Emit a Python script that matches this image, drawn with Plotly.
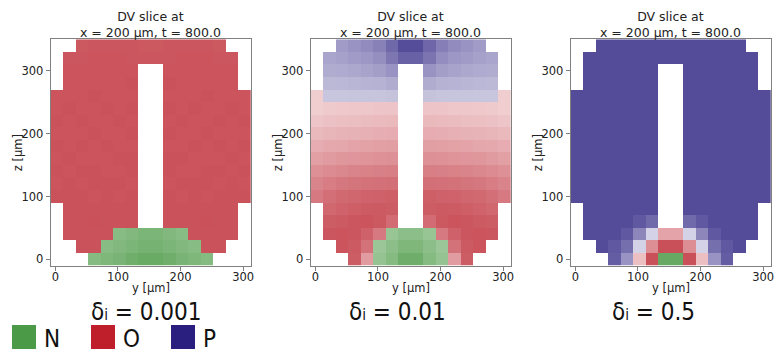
import plotly.graph_objects as go

W, H = 776, 352

# Grid cell centres of the DV slice (µm)
Y_CENTERS = [2.5, 22.5, 42.5, 62.5, 82.5, 102.5, 122.5, 142.5,
             162.5, 182.5, 202.5, 222.5, 242.5, 262.5, 282.5, 302.5]
Z_CENTERS = [340, 320, 300, 280, 260, 240, 220, 200, 180,
             160, 140, 120, 100, 80, 60, 40, 20, 0]   # row order of the tables below

TICKS = [0, 100, 200, 300]
DELTAS = ["0.001", "0.01", "0.5"]
FATES = ["N", "O", "P"]

# Colour of a fully committed cell and of the legend swatches
FATE_COLORS = {"N": "#67a962", "O": "#c94f58", "P": "#544b99"}
LEGEND_COLORS = {"N": "#4b9a47", "O": "#be1f2a", "P": "#2a1f7e"}

# Each token = fate letter + expression level (%), "." = no cell.
FATE_D0001 = [
    ". . O95 O96 O96 O96 O96 O95 O95 O96 O96 O96 O96 O95 . .",
    ". O96 O96 O97 O97 O97 O96 O96 O96 O96 O97 O97 O97 O96 O96 .",
    ". O97 O97 O97 O97 O97 O97 . . O97 O97 O97 O97 O97 O97 .",
    ". O97 O97 O97 O97 O97 O98 . . O98 O97 O97 O97 O97 O97 .",
    "O97 O97 O97 O98 O97 O97 O97 . . O97 O97 O97 O98 O97 O97 O97",
    "O97 O98 O97 O97 O98 O97 O98 . . O98 O97 O98 O97 O97 O98 O97",
    "O98 O97 O98 O97 O97 O98 O97 . . O97 O98 O97 O97 O98 O97 O98",
    "O97 O97 O97 O98 O97 O97 O98 . . O98 O97 O97 O98 O97 O97 O97",
    "O98 O97 O98 O97 O98 O97 O97 . . O97 O97 O98 O97 O98 O97 O98",
    "O97 O98 O97 O97 O97 O98 O98 . . O98 O98 O97 O97 O97 O98 O97",
    "O98 O97 O98 O98 O97 O97 O98 . . O98 O97 O97 O98 O98 O97 O98",
    "O97 O98 O97 O98 O98 O98 O97 . . O97 O98 O98 O98 O97 O98 O97",
    "O98 O98 O98 O97 O98 O97 O98 . . O98 O97 O98 O97 O98 O98 O98",
    ". O98 O98 O98 O98 O98 O98 . . O98 O98 O98 O98 O98 O98 .",
    ". O98 O98 O99 O98 O98 O98 . . O98 O98 O98 O99 O98 O98 .",
    ". O98 O98 O98 O98 N78 N82 N86 N86 N82 N78 O98 O98 O98 O98 .",
    ". . O98 O98 N78 N82 N86 N90 N90 N86 N82 N78 O98 O98 . .",
    ". . . N80 N84 N88 N94 N99 N99 N94 N88 N84 N80 . . .",
]

FATE_D001 = [
    ". . P55 P60 P64 P70 P84 P99 P99 P85 P71 P64 P60 P55 . .",
    ". P50 P52 P55 P58 P62 P76 P88 P88 P77 P63 P58 P55 P52 P50 .",
    ". P46 P47 P49 P51 P54 P60 . . P60 P54 P51 P49 P47 P46 .",
    ". P39 P40 P41 P42 P43 P46 . . P46 P43 P42 P41 P40 P39 .",
    "O28 P32 P32 P33 P33 P33 P34 . . P34 P33 P33 P33 P32 P32 O28",
    "O28 O30 O31 O32 O32 O33 O33 . . O33 O33 O32 O32 O31 O30 O28",
    "O33 O35 O36 O37 O38 O39 O40 . . O40 O39 O38 O37 O36 O35 O33",
    "O40 O42 O43 O44 O45 O46 O47 . . O47 O46 O45 O44 O43 O42 O40",
    "O47 O49 O50 O52 O53 O54 O55 . . O55 O54 O53 O52 O50 O49 O47",
    "O54 O57 O59 O60 O61 O62 O63 . . O63 O62 O61 O60 O59 O57 O54",
    "O63 O66 O68 O70 O71 O72 O73 . . O73 O72 O71 O70 O68 O66 O63",
    "O70 O74 O77 O79 O80 O81 O82 . . O82 O81 O80 O79 O77 O74 O70",
    "O76 O82 O85 O87 O89 O90 O91 . . O91 O90 O89 O87 O85 O82 O76",
    ". O86 O89 O91 O93 O94 O92 . . O92 O94 O93 O91 O89 O86 .",
    ". O92 O94 O96 O97 O95 O84 . . O84 O95 O97 O96 O94 O92 .",
    ". O96 O97 O96 O90 O76 N68 N76 N76 N68 O76 O90 O96 O97 O96 .",
    ". . O97 O94 O80 N66 N76 N84 N84 N76 N66 O80 O94 O97 . .",
    ". . . O92 O56 N70 N80 N95 N95 N80 N70 O56 O92 . . .",
]

FATE_D05 = [
    ". . P100 P100 P100 P100 P100 P100 P100 P100 P100 P100 P100 P100 . .",
    ". P100 P100 P100 P100 P100 P100 P100 P100 P100 P100 P100 P100 P100 P100 .",
    ". P100 P100 P100 P100 P100 P100 . . P100 P100 P100 P100 P100 P100 .",
    ". P100 P100 P100 P100 P100 P100 . . P100 P100 P100 P100 P100 P100 .",
    "P100 P100 P100 P100 P100 P100 P100 . . P100 P100 P100 P100 P100 P100 P100",
    "P100 P100 P100 P100 P100 P100 P100 . . P100 P100 P100 P100 P100 P100 P100",
    "P100 P100 P100 P100 P100 P100 P100 . . P100 P100 P100 P100 P100 P100 P100",
    "P100 P100 P100 P100 P100 P100 P100 . . P100 P100 P100 P100 P100 P100 P100",
    "P100 P100 P100 P100 P100 P100 P100 . . P100 P100 P100 P100 P100 P100 P100",
    "P100 P100 P100 P100 P100 P100 P100 . . P100 P100 P100 P100 P100 P100 P100",
    "P100 P100 P100 P100 P100 P100 P100 . . P100 P100 P100 P100 P100 P100 P100",
    "P100 P100 P100 P100 P100 P100 P100 . . P100 P100 P100 P100 P100 P100 P100",
    "P100 P100 P100 P100 P100 P100 P100 . . P100 P100 P100 P100 P100 P100 P100",
    ". P100 P100 P100 P100 P100 P100 . . P100 P100 P100 P100 P100 P100 .",
    ". P100 P100 P100 P100 P93 P83 . . P83 P93 P100 P100 P100 P100 .",
    ". P100 P100 P100 P93 P67 P25 O52 O52 P25 P67 P93 P100 P100 P100 .",
    ". . P100 P93 P80 P25 O64 O100 O100 O64 P25 P80 P93 P100 . .",
    ". . . P90 P60 O36 O100 N100 N100 O100 O36 P60 P90 . . .",
]

PANELS = [FATE_D0001, FATE_D001, FATE_D05]


def split_fates(rows, fate):
    """Level matrix (0-1) for one fate; None where another fate or no cell."""
    grid = []
    for row in rows:
        vals = []
        for tok in row.split():
            if tok != "." and tok[0] == fate:
                vals.append(int(tok[1:]) / 100)
            else:
                vals.append(None)
        grid.append(vals)
    return grid


def px_x(px):
    return px / W


def px_y(py):
    return 1 - py / H


FONT = "DejaVu Sans"
BIG_FONT = "DejaVu Sans Condensed, Liberation Sans Narrow, DejaVu Sans"
FRAME = "#808080"
TEXT = "#222222"

# plot-area edges of the three panels (px)
panel_left = [50.7, 310.7, 570.7]
panel_width = 200.3
plot_top, plot_bottom = 39.3, 265.7

fig = go.Figure()
layout = dict(
    width=W, height=H,
    margin=dict(l=0, r=0, t=0, b=0),
    paper_bgcolor="white", plot_bgcolor="white",
    showlegend=False,
    annotations=[], shapes=[],
)


def label(text, x, y, size, angle=0, family=FONT, color=TEXT, xanchor="center"):
    return dict(text=text, x=px_x(x), y=px_y(y), xref="paper", yref="paper",
                xanchor=xanchor, yanchor="middle", showarrow=False,
                textangle=angle, font=dict(family=family, size=size, color=color))


for i, rows in enumerate(PANELS):
    sfx = "" if i == 0 else str(i + 1)
    for fate in FATES:
        fig.add_trace(go.Heatmap(
            x=Y_CENTERS, y=Z_CENTERS, z=split_fates(rows, fate),
            zmin=0, zmax=1,
            colorscale=[[0, "#ffffff"], [1, FATE_COLORS[fate]]],
            showscale=False, hoverinfo="skip",
            xaxis="x" + sfx, yaxis="y" + sfx,
        ))
    x0 = panel_left[i]
    x1 = x0 + panel_width
    axis_common = dict(
        showline=True, mirror=True, linecolor=FRAME, linewidth=1,
        ticks="outside", ticklen=4, tickcolor=FRAME, tickwidth=1,
        tickvals=TICKS, showgrid=False, zeroline=False,
        tickfont=dict(family=FONT, size=11.5, color=TEXT),
        fixedrange=True, automargin=False,
    )
    layout["xaxis" + sfx] = dict(
        axis_common, domain=[px_x(x0), px_x(x1)], range=[-7.5, 312.5],
        anchor="y" + sfx, ticklabelstandoff=-4,
    )
    layout["yaxis" + sfx] = dict(
        axis_common, domain=[px_y(plot_bottom), px_y(plot_top)],
        range=[-10, 350], anchor="x" + sfx,
    )
    xc = (x0 + x1) / 2
    layout["annotations"] += [
        label("DV slice at<br>x = 200 µm, t = 800.0", xc, 24.5, 12.5),
        label("y [µm]", xc, 288, 11.5),
        label("z [µm]", x0 - 33, (plot_top + plot_bottom) / 2, 11.5, angle=-90),
    ]

# δi captions under the panels
caption_x = [146, 398, 653]
for cx, d in zip(caption_x, DELTAS):
    layout["annotations"].append(label(
        "δ<span style='font-size:15px'>i</span> = " + d, cx, 312, 24,
        family=BIG_FONT, color="#111111"))

# fate legend
swatch_left = [12, 91, 171]
for sx, fate in zip(swatch_left, FATES):
    layout["shapes"].append(dict(
        type="rect", xref="paper", yref="paper",
        x0=px_x(sx), x1=px_x(sx + 24), y0=px_y(349), y1=px_y(325),
        fillcolor=LEGEND_COLORS[fate], line=dict(width=0),
    ))
    layout["annotations"].append(label(
        fate, sx + 30, 339, 24, family=BIG_FONT, color="#111111", xanchor="left"))

fig.update_layout(**layout)
fig.write_html("out.html")
